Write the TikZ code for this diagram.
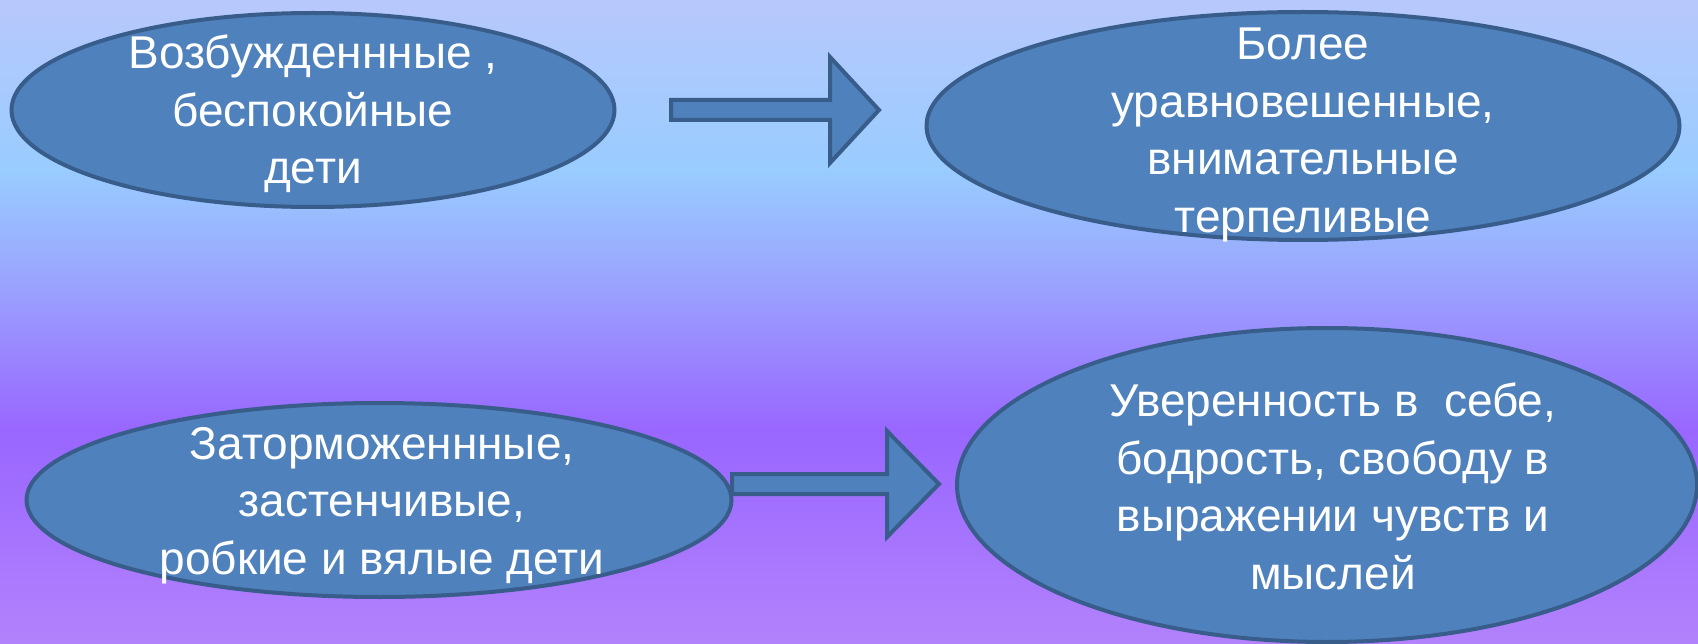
\documentclass[tikz,border=0pt]{standalone}
\usepackage{fontspec}
\setmainfont{Liberation Sans}
\usetikzlibrary{shapes.geometric}
\definecolor{boxfill}{HTML}{4F81BD}
\definecolor{boxline}{HTML}{385D8A}
\definecolor{bgtop}{HTML}{B8C8FC}
\definecolor{bgsky}{HTML}{99CCFF}
\definecolor{bglilac}{HTML}{9A9CFE}
\definecolor{bgviolet}{HTML}{9966FF}
\definecolor{bgbottom}{HTML}{B282FC}
\tikzset{
	blob/.style={ellipse, draw=boxline, fill=boxfill, line width=4pt, inner sep=0pt},
	blobtext/.style={text=white, align=center, inner sep=0pt, font=\fontsize{46}{57.5}\selectfont},
	blockarrow/.style={draw=boxline, fill=boxfill, line width=4pt, line join=miter}
}
\begin{document}
\begin{tikzpicture}[x=1pt,y=-1pt]
	\useasboundingbox (0,0) rectangle (1698,644);
	\shade[top color=bgtop, bottom color=bgsky] (0,0) rectangle (1698,171);
	\shade[top color=bgsky, bottom color=bglilac] (0,170) rectangle (1698,301);
	\shade[top color=bglilac, bottom color=bgviolet] (0,300) rectangle (1698,431);
	\shade[top color=bgviolet, bottom color=bgbottom] (0,430) rectangle (1698,644);
	\node[blob, minimum width=603pt, minimum height=194pt] (excited) at (313,110) {};
	\node[blob, minimum width=753pt, minimum height=228pt] (calm) at (1303,126) {};
	\node[blob, minimum width=705pt, minimum height=194pt] (shy) at (379,500) {};
	\node[blob, minimum width=740pt, minimum height=314pt] (confident) at (1327,485) {};
	\coordinate (tailtop) at (671,110);
	\coordinate (tailbottom) at (732,484);
	\draw[blockarrow] (tailtop) ++(0,-10) -- ++(159,0) -- ++(0,-43) -- ++(49,53) -- ++(-49,53) -- ++(0,-43) -- ++(-159,0) -- cycle;
	\draw[blockarrow] (tailbottom) ++(0,-10) -- ++(155,0) -- ++(0,-43) -- ++(52,53) -- ++(-52,53) -- ++(0,-43) -- ++(-155,0) -- cycle;
	\node[blobtext] (excitedtext) at ([yshift=-4pt]excited.center) {Возбужденнные ,\\беспокойные\\дети};
	\node[blobtext] (calmtext) at ([yshift=-9pt]calm.center) {Более\\уравновешенные,\\внимательные\\терпеливые};
	\node[blobtext] (shytext) at ([xshift=3pt,yshift=-5.5pt]shy.center) {Заторможеннные,\\застенчивые,\\робкие и вялые дети};
	\node[blobtext] (confidenttext) at ([xshift=6pt,yshift=-1.5pt]confident.center) {Уверенность в \ себе,\\бодрость, свободу в\\выражении чувств и\\мыслей};
\end{tikzpicture}
\end{document}
